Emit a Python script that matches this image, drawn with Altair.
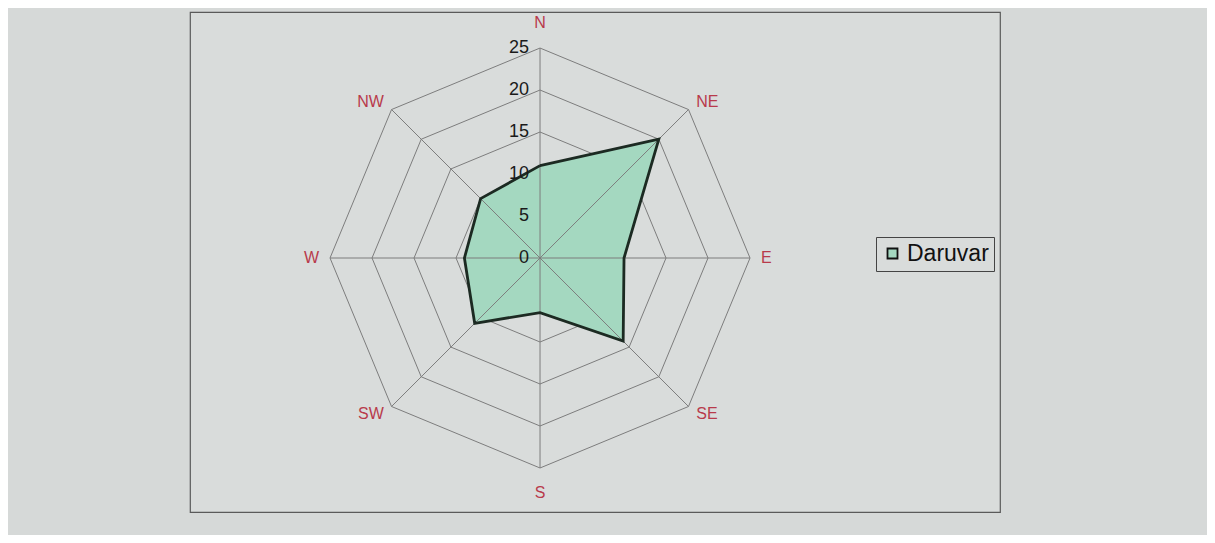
import altair as alt
import pandas as pd

# ---- data ----
directions = ["N", "NE", "E", "SE", "S", "SW", "W", "NW"]
angles_deg = [0, 45, 90, 135, 180, 225, 270, 315]
values = [11, 20, 10, 14, 6.5, 11, 9, 10]
ring_levels = [5, 10, 15, 20, 25]
tick_values = [0, 5, 10, 15, 20, 25]
tick_labels = ["0", "5", "10", "15", "20", "25"]
series_name = "Daruvar"
r_max = 25

# ---- tables built from the arrays ----
n = len(directions)
poly = pd.DataFrame({
    "dir": directions + [directions[0]],
    "angle": angles_deg + [angles_deg[0]],
    "r": values + [values[0]],
    "order": list(range(n + 1)),
    "series": [series_name] * (n + 1),
})
rings = pd.DataFrame([
    {"level": lv, "angle": angles_deg[i % n], "r": lv, "order": i}
    for lv in ring_levels for i in range(n + 1)
])
spokes = pd.DataFrame({"angle": angles_deg, "r": [r_max] * n})
ticks = pd.DataFrame({"r": tick_values, "label": tick_labels})
labels = pd.DataFrame({"dir": directions, "angle": angles_deg})

XDOM = [-41.67, 54.76]
YDOM = [-30.24, 29.29]
xs = alt.Scale(domain=XDOM, nice=False, zero=False)
ys = alt.Scale(domain=YDOM, nice=False, zero=False)

def polar(ch, rfield="r"):
    return ch.transform_calculate(
        x=f"datum.{rfield} * sin(datum.angle * PI / 180)",
        y=f"datum.{rfield} * cos(datum.angle * PI / 180)",
    )

GRID = "#7d7d7d"
FONT = "Liberation Sans"

ring_layer = polar(alt.Chart(rings)).mark_line(color=GRID, strokeWidth=1).encode(
    x=alt.X("x:Q", scale=xs, axis=None),
    y=alt.Y("y:Q", scale=ys, axis=None),
    detail="level:N",
    order="order:Q",
)

fill_layer = polar(alt.Chart(poly)).mark_line(strokeWidth=0, stroke="transparent").encode(
    x=alt.X("x:Q", scale=xs, axis=None),
    y=alt.Y("y:Q", scale=ys, axis=None),
    order="order:Q",
    fill=alt.Fill(
        "series:N",
        scale=alt.Scale(domain=[series_name], range=["#a4d8c0"]),
        legend=alt.Legend(
            orient="none", legendX=686, legendY=225, title=None,
            symbolType="square", symbolSize=100, symbolStrokeColor="#111",
            symbolStrokeWidth=1.8, symbolOpacity=1,
            labelFontSize=23, labelFont=FONT, labelColor="#111",
            strokeColor="#444", padding=5, labelOffset=3,
        ),
    ),
)

spoke_layer = polar(alt.Chart(spokes)).mark_rule(color=GRID, strokeWidth=1).encode(
    x=alt.X("x0:Q", scale=xs, axis=None),
    y=alt.Y("y0:Q", scale=ys, axis=None),
    x2="x:Q",
    y2="y:Q",
).transform_calculate(x0="0", y0="0")

outline_layer = polar(alt.Chart(poly)).mark_line(color="#1c2a22", strokeWidth=2.8).encode(
    x=alt.X("x:Q", scale=xs, axis=None),
    y=alt.Y("y:Q", scale=ys, axis=None),
    order="order:Q",
)

tick_layer = alt.Chart(ticks).mark_text(
    align="right", baseline="middle", dx=-11, fontSize=18, font=FONT, color="#1a1a1a"
).encode(
    x=alt.X("x0:Q", scale=xs, axis=None),
    y=alt.Y("r:Q", scale=ys, axis=None),
    text="label:N",
).transform_calculate(x0="0")

def dir_layer(names, align, r_label):
    return polar(
        alt.Chart(labels).transform_filter(alt.FieldOneOfPredicate(field="dir", oneOf=names))
        .transform_calculate(rl=str(r_label)),
        rfield="rl",
    ).mark_text(align=align, baseline="middle", fontSize=16, font=FONT, color="#b83a4b").encode(
        x=alt.X("x:Q", scale=xs, axis=None),
        y=alt.Y("y:Q", scale=ys, axis=None),
        text="dir:N",
    )

lab_c = dir_layer(["N", "S"], "center", 28.0)
lab_l = dir_layer(["NE", "E", "SE"], "left", 26.3)
lab_r = dir_layer(["NW", "W", "SW"], "right", 26.3)

chart = alt.layer(
    ring_layer, fill_layer, spoke_layer, outline_layer, tick_layer, lab_c, lab_l, lab_r
).properties(
    width=810, height=500,
    padding={"left": 182, "top": 4, "right": 207, "bottom": 23},
    background="#d6d9d8",
).configure_view(stroke="#5a5a5a", strokeWidth=1.2, fill="#d9dcdb")

chart.save("out.html", embed_options={"renderer": "svg", "actions": False})
